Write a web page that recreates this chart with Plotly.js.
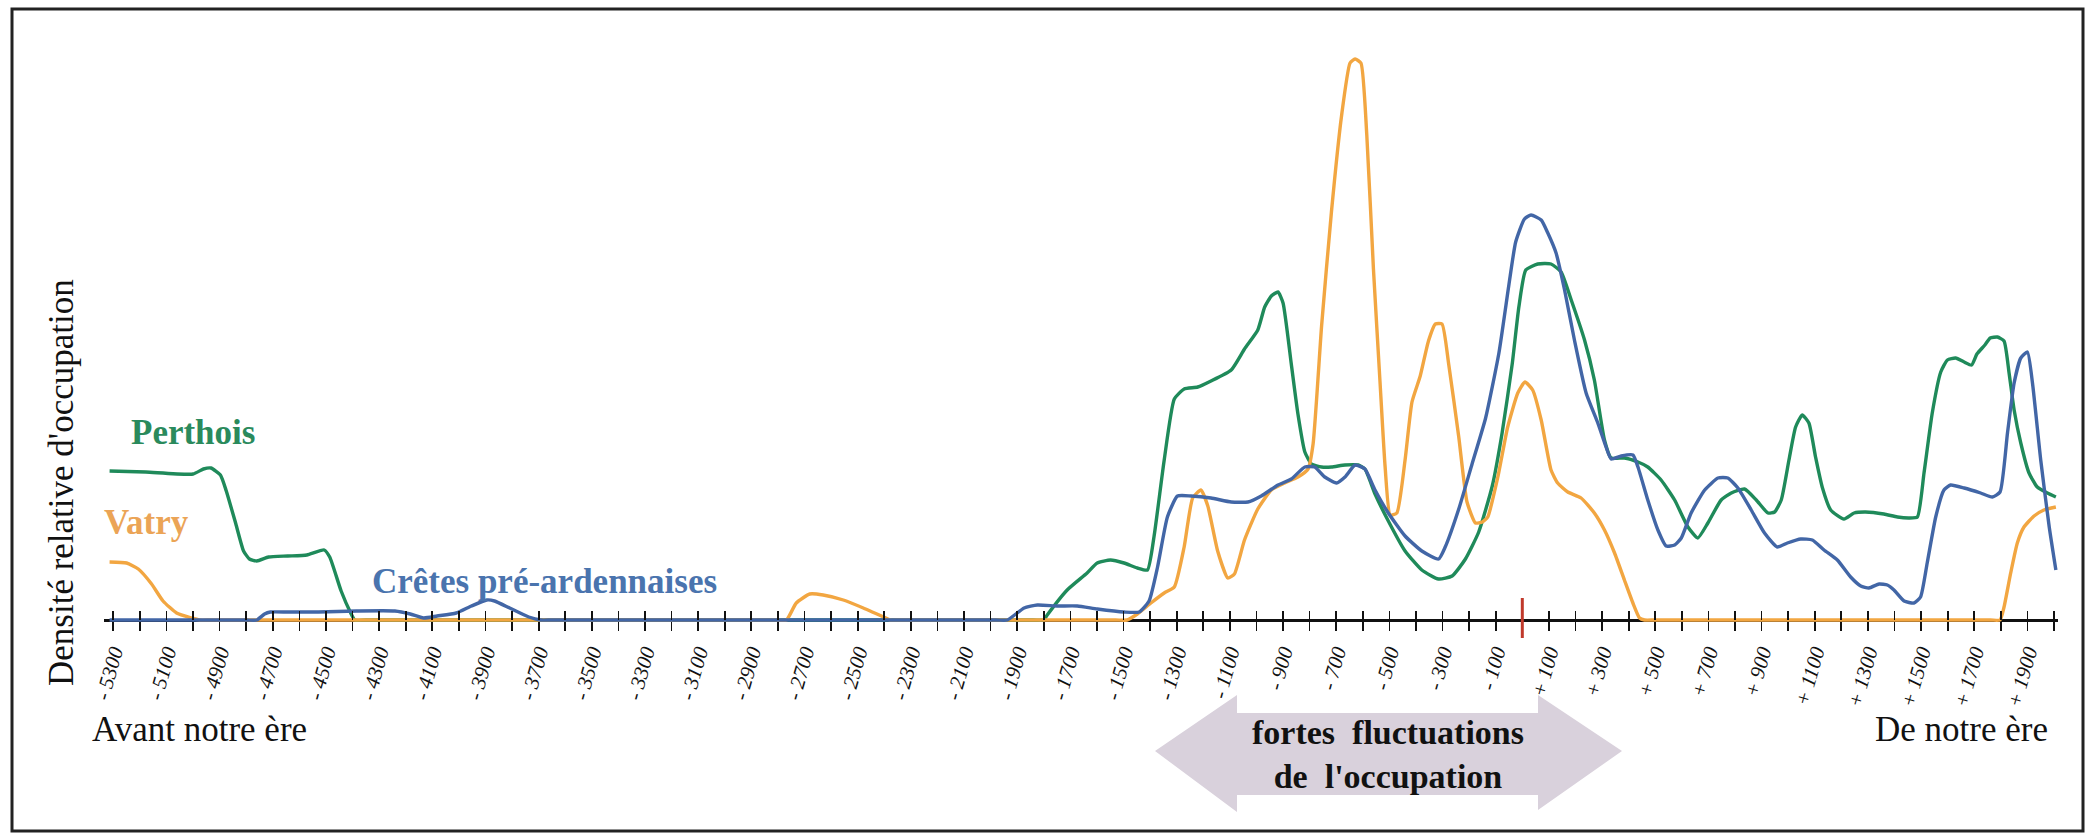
<!DOCTYPE html>
<html>
<head>
<meta charset="utf-8">
<script src="https://cdn.plot.ly/plotly-3.0.1.min.js"></script>
<style>html,body{margin:0;padding:0;background:#fff;}#chart{width:2086px;height:833px;}</style>
</head>
<body>
<div id="chart"></div>
<script>
// ---------- DATA (relative occupation density, arbitrary units) ----------
const perthoisYears = [-5314,-5178,-5000,-4961,-4933,-4897,-4875,-4839,-4810,-4788,-4760,-4716,-4644,-4572,-4507,-4486,-4443,-4407,-4392,-4350,
  -1840,-1800,-1787,-1712,-1637,-1599,-1549,-1498,-1448,-1410,-1385,-1347,-1309,-1272,-1221,-1171,-1095,-1045,-995,-969,-944,-919,-900,-869,-844,-818,-793,-755,-718,-667,-617,-592,-554,-504,-441,-378,-315,-264,-214,-164,-113,-76,-38,-13,
  13,58,108,146,184,234,271,309,334,384,435,472,522,573,623,660,698,748,786,836,880,924,949,974,1003,1028,1053,1078,1103,1128,1160,1210,1248,1291,1360,1411,1455,1486,1511,1542,1574,1599,1630,1662,1690,1710,1740,1760,1787,1812,1831,1850,1875,1906,1937,1975,2007];
const perthoisValues = [149,148,146,151,152,145,129,96,69,61,59,63,64,65,70,63,29,7,0,0,
  0,0,5,30,47,57,60,57,52,50,84,160,221,231,233,239,250,271,290,313,324,328,317,256,206,168,156,153,153,155,155,151,126,99,69,50,41,44,61,88,134,187,256,313,
  350,356,356,348,320,280,240,180,162,162,158,153,140,120,93,82,97,120,127,131,120,107,108,120,160,193,205,197,163,133,110,101,107,108,106,103,102,103,147,207,248,260,262,258,255,266,275,282,283,279,247,210,177,147,133,127,123];

const vatryYears = [-5314,-5250,-5206,-5156,-5113,-5062,-5005,-4976,-4930,
  -2810,-2768,-2731,-2680,-2630,-2554,-2479,-2403,-2378,-2340,
  -1530,-1487,-1448,-1397,-1347,-1309,-1272,-1240,-1209,-1183,-1146,-1108,-1083,-1045,-995,-944,-894,-844,-806,-787,-755,-718,-680,-648,-629,-607,-585,-560,-535,-516,-497,-472,-441,-415,-384,-353,-327,-302,-277,-239,-208,-176,-150,-130,-92,-55,-17,
  10,39,71,108,133,171,221,271,309,347,384,416,441,460,500,
  1760,1797,1812,1837,1862,1887,1925,1962,2007];
const vatryValues = [58,57,51,36,19,7,2,0,0,
  0,0,17,26,25,20,12,3,0,0,
  0,0,6,17,27,33,73,122,130,114,69,42,46,80,111,130,137,143,151,176,294,408,504,557,561,557,485,351,237,153,105,107,160,218,244,279,296,296,256,183,118,97,98,103,143,193,227,
  238,230,200,150,137,128,122,107,90,67,40,17,2,0,0,
  0,0,13,47,77,93,104,110,113];

const cretesYears = [-5314,-5250,-4800,-4760,-4731,-4709,-4644,-4529,-4385,-4241,-4183,-4133,-4082,-4010,-3953,-3895,-3866,-3809,-3737,-3693,-3650,
  -1980,-1937,-1874,-1824,-1750,-1674,-1599,-1498,-1441,-1404,-1372,-1335,-1297,-1246,-1171,-1095,-1032,-982,-919,-869,-818,-781,-743,-699,-667,-629,-592,-554,-504,-441,-378,-315,-290,-239,-189,-138,-88,-50,-25,
  8,33,71,96,127,159,196,240,284,315,334,372,416,435,472,510,541,573,598,635,686,736,773,811,861,911,959,997,1047,1091,1135,1185,1235,1273,1304,1342,1373,1398,1436,1473,1498,1523,1555,1586,1611,1662,1724,1768,1797,1825,1850,1875,1900,1919,1950,1982,2007];
const cretesValues = [0,0,0,0,6,8,8,8,9,9,6,2,4,7,14,20,19,12,3,0,0,
  0,0,12,15,14,14,11,8,8,19,53,103,124,124,122,118,118,124,135,141,153,153,143,137,143,155,151,130,107,84,69,61,73,111,156,202,267,336,378,
  401,405,400,387,367,330,280,227,197,173,161,164,165,153,120,90,74,75,82,107,130,142,142,132,110,87,73,77,81,80,70,60,43,34,32,36,35,30,19,17,23,57,103,130,135,132,127,123,128,187,237,262,268,237,160,93,50];

// tick labels (every 200 years), ticks every 100 years
const labelYears = [-5300,-5100,-4900,-4700,-4500,-4300,-4100,-3900,-3700,-3500,-3300,-3100,-2900,-2700,-2500,-2300,-2100,-1900,-1700,-1500,-1300,-1100,-900,-700,-500,-300,-100,100,300,500,700,900,1100,1300,1500,1700,1900];
const labelTexts = ['- 5300','- 5100','- 4900','- 4700','- 4500','- 4300','- 4100','- 3900','- 3700','- 3500','- 3300','- 3100','- 2900','- 2700','- 2500','- 2300','- 2100','- 1900','- 1700','- 1500','- 1300','- 1100','- 900','- 700','- 500','- 300','- 100','+ 100','+ 300','+ 500','+ 700','+ 900','+ 1100','+ 1300','+ 1500','+ 1700','+ 1900'];
const firstTick = -5300, lastTick = 2000, tickStep = 100;
const eraYear = 0;

// ---------- LAYOUT ----------
const W = 2086, H = 833;
const ZERO_PX = 620;                 // pixel row of the time axis
const yRange = [-(H - ZERO_PX), ZERO_PX];
const xRange = [-5335, 2015];
const xDomain = [104 / W, 2058 / W];
const px = v => v / W, py = v => 1 - v / H;

const tickVals = [], tickText = [];
for (let t = firstTick; t <= lastTick; t += tickStep) {
  tickVals.push(t);
  const i = labelYears.indexOf(t);
  tickText.push(i >= 0 ? labelTexts[i] : '');
}

const serif = "'Liberation Serif', 'Times New Roman', serif";
const cGreen = '#1f8a5a', cOrange = '#f2a641', cBlue = '#4266a6';

const traces = [
  {x: perthoisYears, y: perthoisValues, name: 'Perthois', type: 'scatter', mode: 'lines',
   line: {color: cGreen, width: 3.4, shape: 'spline', smoothing: 0.5}, hoverinfo: 'skip'},
  {x: vatryYears, y: vatryValues, name: 'Vatry', type: 'scatter', mode: 'lines',
   line: {color: cOrange, width: 3.4, shape: 'spline', smoothing: 0.5}, hoverinfo: 'skip'},
  {x: cretesYears, y: cretesValues, name: 'Crêtes pré-ardennaises', type: 'scatter', mode: 'lines',
   line: {color: cBlue, width: 3.4, shape: 'spline', smoothing: 0.5}, hoverinfo: 'skip'},
  {x: [], y: [], xaxis: 'x2', yaxis: 'y', type: 'scatter', mode: 'lines', showlegend: false, hoverinfo: 'skip'}
];

const arrowPts = [[1155,751],[1237,695],[1237,713],[1538,713],[1538,695],[1622,751],[1538,810],[1538,795],[1237,795],[1237,812]];
const arrowPath = 'M ' + arrowPts.map(p => px(p[0]) + ',' + py(p[1])).join(' L ') + ' Z';

const layout = {
  width: W, height: H,
  margin: {l: 0, r: 0, t: 0, b: 0, pad: 0},
  paper_bgcolor: '#ffffff', plot_bgcolor: '#ffffff',
  showlegend: false,
  xaxis: {
    domain: xDomain, range: xRange, anchor: 'free', position: (H - ZERO_PX) / H,
    showline: true, linecolor: '#111', linewidth: 2.8, layer: 'below traces',
    showgrid: false, zeroline: false,
    tickmode: 'array', tickvals: tickVals, ticktext: tickText,
    ticks: 'outside', ticklen: 9, tickwidth: 1.7, tickcolor: '#111',
    tickangle: -74, ticklabelstandoff: 1,
    tickfont: {family: serif, size: 21, style: 'italic', color: '#111'},
    fixedrange: true
  },
  xaxis2: {
    overlaying: 'x', anchor: 'free', position: (H - ZERO_PX) / H, range: xRange,
    tickmode: 'linear', tick0: firstTick, dtick: tickStep,
    ticks: 'inside', ticklen: 9, tickwidth: 1.7, tickcolor: '#111',
    showticklabels: false, showline: false, showgrid: false, zeroline: false, fixedrange: true
  },
  yaxis: {
    domain: [0, 1], range: yRange, visible: false, showgrid: false, zeroline: false, fixedrange: true
  },
  shapes: [
    {type: 'rect', xref: 'paper', yref: 'paper', x0: px(12), x1: px(2083), y0: py(831), y1: py(9),
     line: {color: '#222', width: 3}, fillcolor: 'rgba(0,0,0,0)', layer: 'below'},
    {type: 'path', xref: 'paper', yref: 'paper', path: arrowPath, fillcolor: '#d9d1dc', line: {width: 0}, layer: 'below'},
    {type: 'line', xref: 'x', yref: 'y', x0: eraYear, x1: eraYear, y0: -18, y1: 22,
     line: {color: '#c0392b', width: 3}}
  ],
  annotations: [
    {text: 'Perthois', xref: 'paper', yref: 'paper', x: px(129), y: py(432), xanchor: 'left', yanchor: 'middle',
     showarrow: false, font: {family: serif, size: 35, weight: 'bold', color: '#2a8a5c'}},
    {text: 'Vatry', xref: 'paper', yref: 'paper', x: px(102), y: py(522), xanchor: 'left', yanchor: 'middle',
     showarrow: false, font: {family: serif, size: 35, weight: 'bold', color: '#eba456'}},
    {text: 'Crêtes pré-ardennaises', xref: 'paper', yref: 'paper', x: px(370), y: py(581), xanchor: 'left', yanchor: 'middle',
     showarrow: false, font: {family: serif, size: 35, weight: 'bold', color: '#4a74ae'}},
    {text: "Densité relative d'occupation", xref: 'paper', yref: 'paper', x: px(61), y: py(483), xanchor: 'center', yanchor: 'middle',
     textangle: -90, showarrow: false, font: {family: serif, size: 35, color: '#111'}},
    {text: 'Avant notre ère', xref: 'paper', yref: 'paper', x: px(90), y: py(729), xanchor: 'left', yanchor: 'middle',
     showarrow: false, font: {family: serif, size: 35, color: '#111'}},
    {text: 'De notre ère', xref: 'paper', yref: 'paper', x: px(2050), y: py(729), xanchor: 'right', yanchor: 'middle',
     showarrow: false, font: {family: serif, size: 35, color: '#111'}},
    {text: 'fortes\u00a0 fluctuations<br>de\u00a0 l\'occupation', xref: 'paper', yref: 'paper', x: px(1388), y: py(754),
     xanchor: 'center', yanchor: 'middle', align: 'center', showarrow: false,
     font: {family: serif, size: 34, weight: 'bold', color: '#111'}}
  ]
};

Plotly.newPlot('chart', traces, layout, {displayModeBar: false, staticPlot: true});
</script>
</body>
</html>
